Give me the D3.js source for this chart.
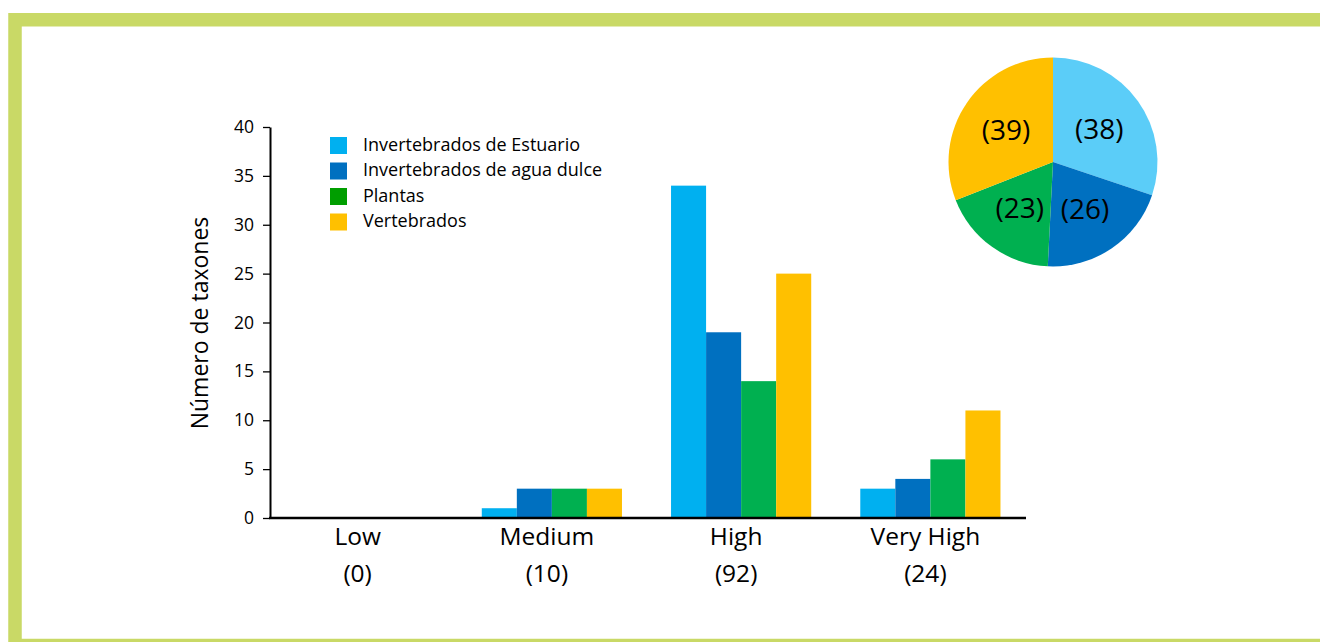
<!DOCTYPE html>
<html>
<head>
<meta charset="utf-8">
<script src="https://cdn.jsdelivr.net/npm/d3@7"></script>
<style>
  body { margin: 0; background: #fff; }
  svg { display: block; }
  text { font-family: "Open Sans", "Noto Sans", sans-serif; fill: #000; }
</style>
</head>
<body>
<svg id="chart" width="1320" height="642"></svg>
<script>
// Threat categories and number of taxa per group
const categories = ["Low", "Medium", "High", "Very High"];
const seriesNames = [
  "Invertebrados de Estuario",
  "Invertebrados de agua dulce",
  "Plantas",
  "Vertebrados"
];
const estuario    = [0, 1, 34, 3];
const aguaDulce   = [0, 3, 19, 4];
const plantas     = [0, 3, 14, 6];
const vertebrados = [0, 3, 25, 11];
const yTicks = [0, 5, 10, 15, 20, 25, 30, 35, 40];

const barColors    = ["#00B0F0", "#0070C0", "#00B050", "#FFC000"];
const legendColors = ["#00B0F0", "#0070C0", "#009E00", "#FFC000"];
const pieColors    = ["#5BCDF8", "#0070C0", "#00B050", "#FFC000"];

const series = [estuario, aguaDulce, plantas, vertebrados];
const categoryTotals = categories.map((c, i) => d3.sum(series, s => s[i]));
const seriesTotals = series.map(s => d3.sum(s));

const svg = d3.select("#chart");

// Frame
svg.append("rect")
  .attr("x", 15).attr("y", 19.75)
  .attr("width", 1400).attr("height", 625.75)
  .attr("fill", "none")
  .attr("stroke", "#C9D966")
  .attr("stroke-width", 13.5);

// Scales
const x = d3.scaleBand().domain(categories).range([268, 1025]).padding(0);
const xInner = d3.scaleBand().domain(seriesNames)
  .range([0, x.bandwidth()]).paddingInner(0).paddingOuter(0.7);
const y = d3.scaleLinear().domain([0, 40]).range([518, 127]);

// Bars
const groups = svg.append("g").selectAll("g")
  .data(categories)
  .join("g")
  .attr("transform", d => `translate(${x(d)},0)`);

groups.selectAll("rect")
  .data((c, i) => seriesNames.map((name, k) => ({ name, k, value: series[k][i] })))
  .join("rect")
  .attr("x", d => xInner(d.name))
  .attr("width", xInner.bandwidth())
  .attr("y", d => y(d.value))
  .attr("height", d => y(0) - y(d.value))
  .attr("fill", d => barColors[d.k]);

// Y axis
const yAxis = svg.append("g")
  .attr("transform", "translate(270,0)")
  .call(d3.axisLeft(y).tickValues(yTicks).tickSize(7).tickPadding(9).tickSizeOuter(0));
yAxis.select(".domain").attr("stroke", "#000").attr("stroke-width", 2);
yAxis.selectAll(".tick line").attr("stroke", "#000").attr("stroke-width", 1.3);
yAxis.selectAll(".tick text")
  .style("font-family", '"Open Sans", sans-serif')
  .style("font-size", "17.5px")
  .attr("fill", "#000");

// Baseline
svg.append("line")
  .attr("x1", 269).attr("x2", 1026)
  .attr("y1", y(0)).attr("y2", y(0))
  .attr("stroke", "#000").attr("stroke-width", 2.5);

// Category labels with totals
const catLabels = svg.append("g").selectAll("text")
  .data(categories)
  .join("text")
  .attr("text-anchor", "middle")
  .style("font-size", "24.5px")
  .attr("transform", d => `translate(${x(d) + x.bandwidth() / 2 - 5},0)`);
catLabels.append("tspan").attr("x", 0).attr("y", 545).text(d => d);
catLabels.append("tspan").attr("x", 0).attr("y", 582)
  .text((d, i) => `(${categoryTotals[i]})`);

// Y axis title
svg.append("text")
  .attr("transform", "translate(208,323) rotate(-90)")
  .attr("text-anchor", "middle")
  .style("font-size", "23px")
  .text("Número de taxones");

// Legend
const legend = svg.append("g").attr("transform", "translate(330,137)");
const legendRows = legend.selectAll("g")
  .data(seriesNames)
  .join("g")
  .attr("transform", (d, i) => `translate(0,${i * 25.5})`);
legendRows.append("rect")
  .attr("width", 17).attr("height", 17)
  .attr("fill", (d, i) => legendColors[i]);
legendRows.append("text")
  .attr("x", 33).attr("y", 7.5)
  .attr("dy", "0.35em")
  .style("font-size", "18px")
  .text(d => d);

// Pie of totals per group
const pie = d3.pie().sort(null).value(d => d);
const arcs = pie(seriesTotals);
const radius = 104.5;
const arc = d3.arc().innerRadius(0).outerRadius(radius);
const labelArc = d3.arc().innerRadius(57).outerRadius(57);
const pieG = svg.append("g").attr("transform", "translate(1053,162)");
pieG.selectAll("path")
  .data(arcs)
  .join("path")
  .attr("d", arc)
  .attr("fill", (d, i) => pieColors[i]);
pieG.selectAll("text")
  .data(arcs)
  .join("text")
  .attr("transform", d => `translate(${labelArc.centroid(d)})`)
  .attr("text-anchor", "middle")
  .attr("dy", "0.35em")
  .style("font-size", "28px")
  .text(d => `(${d.value})`);
</script>
</body>
</html>
